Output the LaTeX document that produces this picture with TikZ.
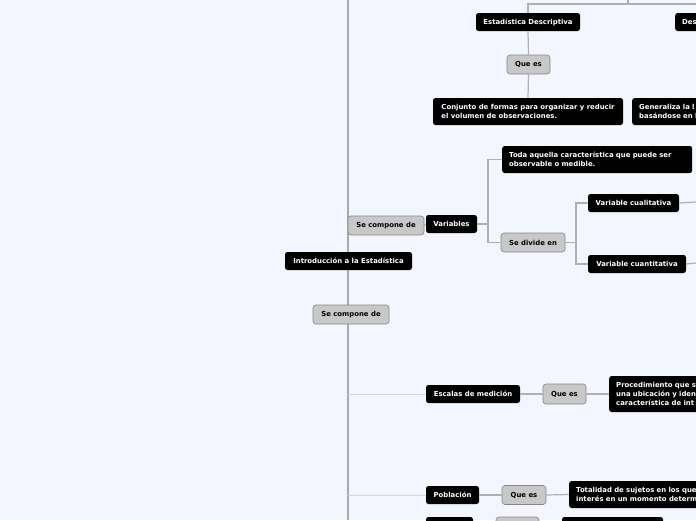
\documentclass[tikz,border=0pt]{standalone}
\usepackage{fontspec}
\setmainfont{DejaVu Sans}
\definecolor{bg}{RGB}{243,246,254}
\definecolor{trunkc}{RGB}{170,170,172}
\definecolor{connc}{RGB}{176,176,178}
\definecolor{faintc}{RGB}{210,214,222}
\definecolor{grayfill}{RGB}{200,200,200}
\definecolor{grayedge}{RGB}{135,135,135}
\begin{document}
\begin{tikzpicture}[x=1pt,y=-1pt,
  font=\bfseries\fontsize{6.9}{8.8}\selectfont,
  blk/.style={fill=black, text=white, rounded corners=2.5pt, inner xsep=7pt, inner ysep=0pt, align=left},
  gry/.style={fill=grayfill, draw=grayedge, line width=0.6pt, rounded corners=3pt, text=black, inner sep=0pt},
  trunk/.style={line width=2.5pt, draw=trunkc},
  conn/.style={line width=1.2pt, draw=connc},
  faint/.style={line width=1pt, draw=faintc}]
\useasboundingbox (0,0) rectangle (696,520);
\fill[bg] (0,0) rectangle (696,520);
\clip (0,0) rectangle (696,520);

% coordinates
\coordinate (ttop) at (348,0);
\coordinate (tbot) at (348,520);
\coordinate (tj) at (628,4);
\coordinate (ttop2) at (628,0);
\coordinate (tr) at (696,4);
\coordinate (vj) at (488,224);
\coordinate (sj) at (576,242.5);
\coordinate (cualend) at (696,202);
\coordinate (cuanend) at (696,263);
\coordinate (e0) at (348,394);
\coordinate (p0) at (348,495);

\draw[trunk] (ttop) -- (tbot);

% nodes
\node[blk, minimum width=104pt, minimum height=18pt] (ed) at (528,22) {Estadística Descriptiva};
\node[gry, minimum width=43pt, minimum height=19pt] (q1) at (528.5,64.5) {Que es};
\node[blk, minimum width=190pt, minimum height=27pt] (conj) at (528,111.5) {Conjunto de formas para organizar y reducir\\el volumen de observaciones.};
\node[blk, anchor=west, text width=200pt, minimum height=27pt] (gen) at (632,111.5) {Generaliza la l\\basándose en l};
\node[blk, anchor=west, text width=60pt, minimum height=18pt] (des) at (675,22) {Des};

\node[blk, minimum width=127pt, minimum height=18pt] (intro) at (348.5,261) {Introducción a la Estadística};
\node[gry, minimum width=76pt, minimum height=19pt] (sc1) at (386,225.5) {Se compone de};
\node[blk, minimum width=51pt, minimum height=18pt] (var) at (451.5,224) {Variables};
\node[gry, minimum width=76pt, minimum height=19pt] (sc2) at (351,314.5) {Se compone de};

\node[blk, anchor=west, text width=176pt, minimum height=27pt] (toda) at (502,159.5) {Toda aquella característica que puede ser\\observable o medible.};
\node[gry, minimum width=64pt, minimum height=19pt] (sdiv) at (533,242.5) {Se divide en};
\node[blk, minimum width=91pt, minimum height=18pt] (cual) at (633.5,203) {Variable cualitativa};
\node[blk, minimum width=98pt, minimum height=18pt] (cuan) at (637,264) {Variable cuantitativa};

\node[blk, minimum width=94pt, minimum height=18pt] (esc) at (473,394) {Escalas de medición};
\node[gry, minimum width=43pt, minimum height=20pt] (q2) at (564.5,394) {Que es};
\node[blk, anchor=west, text width=200pt, minimum height=36pt] (proc) at (609,394) {Procedimiento que s\\una ubicación y iden\\característica de int};

\node[blk, minimum width=53pt, minimum height=18pt] (pob) at (452.5,495) {Población};
\node[gry, minimum width=44pt, minimum height=19pt] (q3) at (524,495) {Que es};
\node[blk, anchor=west, text width=200pt, minimum height=27pt] (tot) at (569,494.5) {Totalidad de sujetos en los que\\interés en un momento determ};

\node[blk, minimum width=47pt, minimum height=18pt] (b1) at (449.5,526) {};
\node[gry, minimum width=43pt, minimum height=19pt] (b2) at (517.5,526.5) {};
\node[blk, minimum width=101pt, minimum height=18pt] (b3) at (612.5,526) {};

% connectors
\draw[conn] (ed.north) |- (tr);
\draw[conn] (tj) -- (ttop2);
\draw[conn] (ed.south) -- (q1.north);
\draw[conn] (q1.south) -- (conj.north);
\draw[conn] (sc1.east) -- (var.west);
\draw[conn] (var.east) -- (vj);
\draw[conn] (vj) |- (toda.west);
\draw[conn] (vj) |- (sdiv.west);
\draw[conn] (sdiv.east) -- (sj);
\draw[conn] (sj) |- (cual.west);
\draw[conn] (sj) |- (cuan.west);
\draw[conn] (cual.east) -- (cualend);
\draw[conn] (cuan.east) -- (cuanend);
\draw[faint] (e0) -- (esc.west);
\draw[conn] (esc.east) -- (q2.west);
\draw[conn] (q2.east) -- (proc.west);
\draw[faint] (p0) -- (pob.west);
\draw[conn] (pob.east) -- (q3.west);
\draw[conn] (q3.east) -- (tot.west);
\end{tikzpicture}
\end{document}
